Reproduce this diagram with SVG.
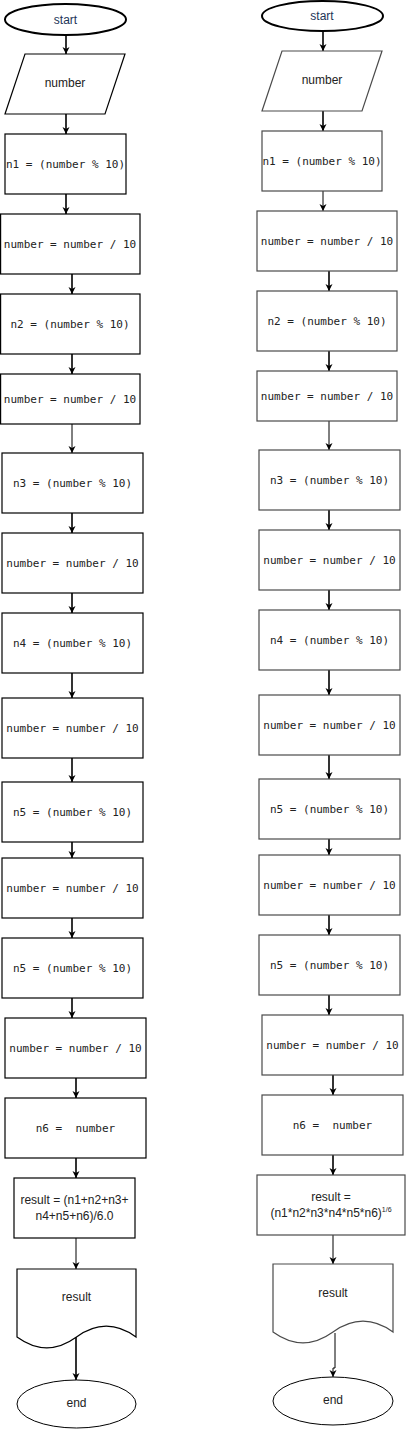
<svg xmlns="http://www.w3.org/2000/svg" width="406" height="1430" viewBox="0 0 406 1430">
<style>
.bg{fill:#fff}
.box{fill:#fff;stroke:#000;stroke-width:1.2}
.boxr{fill:#fff;stroke:#4a4a4a;stroke-width:1.2}
.term{fill:#fff;stroke:#000;stroke-width:2}
.thin{fill:#fff;stroke:#000;stroke-width:1}
.mono{font-family:"DejaVu Sans Mono","Liberation Mono",monospace;font-size:11px;fill:#222;text-anchor:middle;white-space:pre}
.sans{font-family:"Liberation Sans",Arial,sans-serif;font-size:12px;fill:#222;text-anchor:middle}
.st{fill:#1d3557}
.c{fill:none;stroke:#000;stroke-width:1.6}
.ct{fill:none;stroke:#000;stroke-width:1}
</style>
<defs>
<marker id="ah" viewBox="0 0 10 10" refX="10" refY="5" markerWidth="7" markerHeight="8" markerUnits="userSpaceOnUse" orient="auto">
<path d="M0,0 L10,5 L0,10 L3,5 z" fill="#000"/>
</marker>
</defs>
<rect class="bg" x="0" y="0" width="406" height="1430"/>

<g id="connectors">
<path class="c" d="M66,35V54" marker-end="url(#ah)"/>
<path class="c" d="M66,114V134" marker-end="url(#ah)"/>
<path class="c" d="M66,194V214" marker-end="url(#ah)"/>
<path class="c" d="M72,274V294" marker-end="url(#ah)"/>
<path class="c" d="M72,354V374" marker-end="url(#ah)"/>
<path class="ct" d="M72,424V453" marker-end="url(#ah)"/>
<path class="c" d="M72,513V533" marker-end="url(#ah)"/>
<path class="c" d="M72,593V613" marker-end="url(#ah)"/>
<path class="c" d="M72,673V698" marker-end="url(#ah)"/>
<path class="c" d="M72,758V782" marker-end="url(#ah)"/>
<path class="c" d="M72,842V858" marker-end="url(#ah)"/>
<path class="c" d="M72,918V938" marker-end="url(#ah)"/>
<path class="c" d="M72,998V1018" marker-end="url(#ah)"/>
<path class="c" d="M76,1078V1098" marker-end="url(#ah)"/>
<path class="c" d="M76,1158V1178" marker-end="url(#ah)"/>
<path class="ct" d="M76,1238V1269" marker-end="url(#ah)"/>
<path class="c" d="M76,1337V1380" marker-end="url(#ah)"/>

<path class="c" d="M323,31V51" marker-end="url(#ah)"/>
<path class="c" d="M323,111V131" marker-end="url(#ah)"/>
<path class="ct" d="M323,191V211" marker-end="url(#ah)"/>
<path class="c" d="M329,271V291" marker-end="url(#ah)"/>
<path class="c" d="M329,351V371" marker-end="url(#ah)"/>
<path class="ct" d="M329,421V450" marker-end="url(#ah)"/>
<path class="c" d="M329,510V530" marker-end="url(#ah)"/>
<path class="c" d="M329,590V610" marker-end="url(#ah)"/>
<path class="c" d="M329,670V695" marker-end="url(#ah)"/>
<path class="c" d="M329,755V779" marker-end="url(#ah)"/>
<path class="c" d="M329,839V855" marker-end="url(#ah)"/>
<path class="c" d="M329,915V935" marker-end="url(#ah)"/>
<path class="c" d="M329,995V1015" marker-end="url(#ah)"/>
<path class="c" d="M333,1075V1095" marker-end="url(#ah)"/>
<path class="c" d="M333,1155V1175" marker-end="url(#ah)"/>
<path class="ct" d="M333,1235V1264" marker-end="url(#ah)"/>
<path class="ct" d="M335,1333V1368H333V1377" marker-end="url(#ah)"/>
</g>

<g id="L-start"><ellipse class="term" cx="65.5" cy="19.5" rx="60.5" ry="15.5"/><text class="sans st" x="65.5" y="23.5">start</text></g>
<g id="L-input"><polygon class="box" points="25,54 125,54 105,114 5,114"/><text class="sans" x="65" y="87">number</text></g>
<g id="L-n1"><rect class="box" x="5" y="134" width="121" height="60"/><text class="mono" x="65.5" y="168">n1 = (number % 10)</text></g>
<g id="L-div1"><rect class="box" x="0.6" y="214" width="139.4" height="60"/><text class="mono" x="70" y="248">number = number / 10</text></g>
<g id="L-n2"><rect class="box" x="0.6" y="294" width="139.4" height="60"/><text class="mono" x="70" y="328">n2 = (number % 10)</text></g>
<g id="L-div2"><rect class="box" x="0.6" y="374" width="139.4" height="50"/><text class="mono" x="70" y="403">number = number / 10</text></g>
<g id="L-n3"><rect class="box" x="2" y="453" width="141" height="60"/><text class="mono" x="72.5" y="487">n3 = (number % 10)</text></g>
<g id="L-div3"><rect class="box" x="2" y="533" width="141" height="60"/><text class="mono" x="72.5" y="567">number = number / 10</text></g>
<g id="L-n4"><rect class="box" x="2" y="613" width="141" height="60"/><text class="mono" x="72.5" y="647">n4 = (number % 10)</text></g>
<g id="L-div4"><rect class="box" x="2" y="698" width="141" height="60"/><text class="mono" x="72.5" y="732">number = number / 10</text></g>
<g id="L-n5"><rect class="box" x="2" y="782" width="141" height="60"/><text class="mono" x="72.5" y="816">n5 = (number % 10)</text></g>
<g id="L-div5"><rect class="box" x="2" y="858" width="141" height="60"/><text class="mono" x="72.5" y="892">number = number / 10</text></g>
<g id="L-n5b"><rect class="box" x="2" y="938" width="141" height="60"/><text class="mono" x="72.5" y="972">n5 = (number % 10)</text></g>
<g id="L-div6"><rect class="box" x="5" y="1018" width="141" height="60"/><text class="mono" x="75.5" y="1052">number = number / 10</text></g>
<g id="L-n6"><rect class="box" x="5" y="1098" width="141" height="60"/><text class="mono" x="75.5" y="1132">n6 =  number</text></g>
<g id="L-result"><rect class="box" x="14" y="1178" width="121" height="60"/><text class="sans" x="74.5" y="1204">result = (n1+n2+n3+</text><text class="sans" x="74.5" y="1220">n4+n5+n6)/6.0</text></g>
<g id="L-output"><path class="box" d="M17,1269H136V1337Q106.25,1315.4 76.5,1337Q46.75,1358.6 17,1337Z"/><text class="sans" x="76.5" y="1301">result</text></g>
<g id="L-end"><ellipse class="thin" cx="76.5" cy="1404" rx="59.5" ry="24"/><text class="sans" x="76.5" y="1407">end</text></g>

<g id="R-start"><ellipse class="term" cx="322.5" cy="16" rx="60.5" ry="15"/><text class="sans st" x="322" y="20">start</text></g>
<g id="R-input"><polygon class="boxr" points="282,51 382,51 362,111 262,111"/><text class="sans" x="322" y="84">number</text></g>
<g id="R-n1"><rect class="boxr" x="262" y="131" width="120" height="60"/><text class="mono" x="322" y="165">n1 = (number % 10)</text></g>
<g id="R-div1"><rect class="boxr" x="257" y="211" width="140" height="60"/><text class="mono" x="327" y="245">number = number / 10</text></g>
<g id="R-n2"><rect class="boxr" x="257" y="291" width="140" height="60"/><text class="mono" x="327" y="325">n2 = (number % 10)</text></g>
<g id="R-div2"><rect class="boxr" x="257" y="371" width="140" height="50"/><text class="mono" x="327" y="400">number = number / 10</text></g>
<g id="R-n3"><rect class="boxr" x="259" y="450" width="141" height="60"/><text class="mono" x="329.5" y="484">n3 = (number % 10)</text></g>
<g id="R-div3"><rect class="boxr" x="259" y="530" width="141" height="60"/><text class="mono" x="329.5" y="564">number = number / 10</text></g>
<g id="R-n4"><rect class="boxr" x="259" y="610" width="141" height="60"/><text class="mono" x="329.5" y="644">n4 = (number % 10)</text></g>
<g id="R-div4"><rect class="boxr" x="259" y="695" width="141" height="60"/><text class="mono" x="329.5" y="729">number = number / 10</text></g>
<g id="R-n5"><rect class="boxr" x="259" y="779" width="141" height="60"/><text class="mono" x="329.5" y="813">n5 = (number % 10)</text></g>
<g id="R-div5"><rect class="boxr" x="259" y="855" width="141" height="60"/><text class="mono" x="329.5" y="889">number = number / 10</text></g>
<g id="R-n5b"><rect class="boxr" x="259" y="935" width="141" height="60"/><text class="mono" x="329.5" y="969">n5 = (number % 10)</text></g>
<g id="R-div6"><rect class="boxr" x="262" y="1015" width="141" height="60"/><text class="mono" x="332.5" y="1049">number = number / 10</text></g>
<g id="R-n6"><rect class="boxr" x="262" y="1095" width="141" height="60"/><text class="mono" x="332.5" y="1129">n6 =  number</text></g>
<g id="R-result"><rect class="boxr" x="257" y="1175" width="148" height="60"/><text class="sans" x="331" y="1201">result =</text><text class="sans" x="331" y="1217">(n1*n2*n3*n4*n5*n6)<tspan font-size="7" dy="-5">1/6</tspan></text></g>
<g id="R-output"><path class="boxr" d="M273,1264H393V1332Q363,1310.4 333,1332Q303,1353.6 273,1332Z"/><text class="sans" x="333" y="1297">result</text></g>
<g id="R-end"><ellipse class="thin" cx="333" cy="1401" rx="60" ry="24"/><text class="sans" x="333" y="1404">end</text></g>
</svg>
